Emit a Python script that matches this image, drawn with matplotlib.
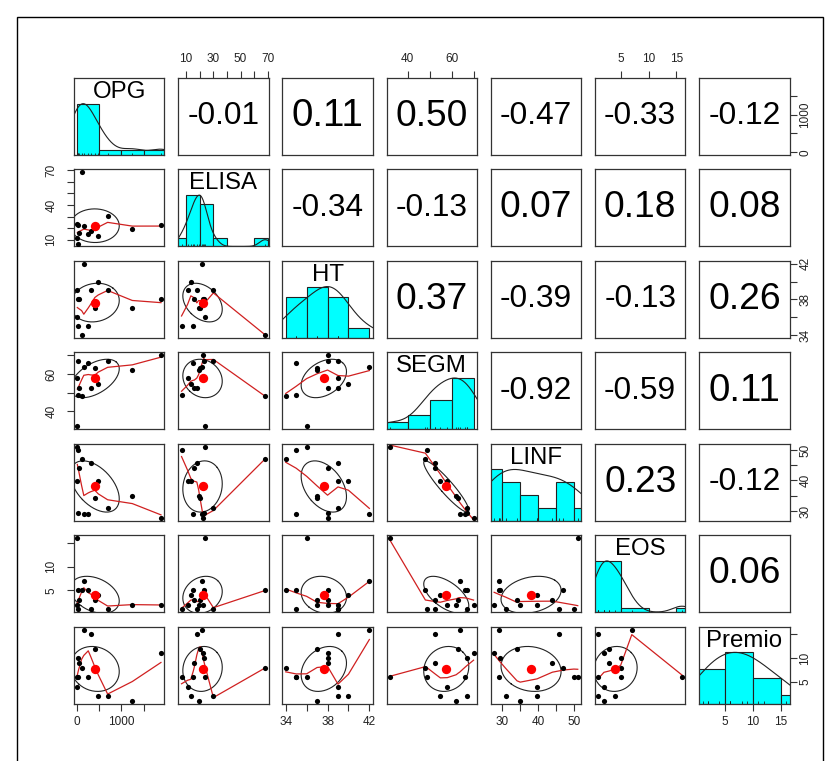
import numpy as np
import matplotlib
matplotlib.use('Agg')
import matplotlib.pyplot as plt

plt.rcParams['font.family'] = ['Liberation Sans', 'DejaVu Sans']

names = ['OPG', 'ELISA', 'HT', 'SEGM', 'LINF', 'EOS', 'Premio']

# values, one entry per case
OPG = [1890, 1244, 101, 5, 151, 12, 251, 400, 20, 35, 688, 8, 311, 476]
ELISA = [22.6, 19.3, 68.0, 23.9, 21.8, 6.8, 15.4, 20.5, 23.0, 16.1, 30.1, 11.2, 18.0, 13.6]
HT = [38, 37, 34, 36, 42, 35, 35, 37, 38, 38, 39, 39, 39, 40]
SEGM = [70.0, 62.1, 48.1, 32.0, 63.7, 49.0, 66.1, 63.0, 67.0, 52.7, 67.0, 58.1, 52.7, 54.9]
LINF = [27.7, 35.0, 47.1, 51.1, 29.0, 50.0, 29.0, 34.1, 29.3, 44.0, 30.9, 39.7, 45.8, 39.7]
EOS = [2, 2, 5, 16, 7, 1, 5, 3, 5, 3, 1, 2, 1, 4]
Premio = [11, 1, 8, 6, 16, 6, 6, 12, 10, 9, 2, 4, 15, 2]

# correlations as printed in the upper triangle, row by row
cor_rows = [['-0.01', '0.11', '0.50', '-0.47', '-0.33', '-0.12'],
            ['-0.34', '-0.13', '0.07', '0.18', '0.08'],
            ['0.37', '-0.39', '-0.13', '0.26'],
            ['-0.92', '-0.59', '0.11'],
            ['0.23', '-0.12'],
            ['0.06']]

# tick labels that R kept (the rest of the ticks are unlabelled)
h_labels = {'OPG': [0, 1000], 'ELISA': [10, 30, 50, 70], 'HT': [34, 38, 42],
            'SEGM': [40, 60], 'LINF': [30, 40, 50], 'EOS': [5, 10, 15],
            'Premio': [5, 10, 15]}
v_labels = {'OPG': [0, 1000], 'ELISA': [10, 40, 70], 'HT': [34, 38, 42],
            'SEGM': [40, 60], 'LINF': [30, 40, 50], 'EOS': [5, 10],
            'Premio': [5, 10]}

data = [np.array(v, float) for v in (OPG, ELISA, HT, SEGM, LINF, EOS, Premio)]
nv = len(names)


def pretty_unit(lo, hi, n=5, h=1.5):
    cell = (hi - lo) / n
    U = 10 ** np.floor(np.log10(cell))
    unit = U
    if 2 * U - cell < h * (cell - unit):
        unit = 2 * U
        if 5 * U - cell < (0.5 + 1.5 * h) * (cell - unit):
            unit = 5 * U
            if 10 * U - cell < h * (cell - unit):
                unit = 10 * U
    return unit


def usr_of(x):
    r = x.max() - x.min()
    return x.min() - 0.04 * r, x.max() + 0.04 * r


def axis_ticks(lo, hi):
    u = pretty_unit(lo, hi)
    return np.arange(np.ceil(lo / u) * u, hi + 1e-9, u) + 0.0


def lowest(x, y, xs, nleft, nright, rw):
    n = len(x)
    h = max(xs - x[nleft], x[nright] - xs)
    h9, h1 = 0.999 * h, 0.001 * h
    w = np.zeros(n)
    a = 0.0
    j = nleft
    while j < n:
        r = abs(x[j] - xs)
        if r <= h9:
            w[j] = 1.0 if r <= h1 else (1 - (r / h) ** 3) ** 3
            w[j] *= rw[j]
            a += w[j]
        elif x[j] > xs:
            break
        j += 1
    sl = slice(nleft, j)
    if a <= 0:
        return 0.0, False
    w[sl] /= a
    if h > 0:
        m = np.sum(w[sl] * x[sl])
        c = np.sum(w[sl] * (x[sl] - m) ** 2)
        if np.sqrt(c) > 0.001 * (x[-1] - x[0]):
            w[sl] *= (xs - m) / c * (x[sl] - m) + 1.0
    return np.sum(w[sl] * y[sl]), True


def lowess(x, y, f=2 / 3, iters=3):
    o = np.argsort(x, kind='mergesort')
    x, y = x[o], y[o]
    n = len(x)
    ns = max(2, min(n, int(f * n + 1e-7)))
    delta = 0.01 * (x[-1] - x[0])
    rw = np.ones(n)
    ys = np.zeros(n)
    for it in range(iters + 1):
        nleft, nright, last, i = 0, ns - 1, -1, 0
        while True:
            if nright < n - 1:
                if x[i] - x[nleft] > x[nright + 1] - x[i]:
                    nleft += 1
                    nright += 1
                    continue
            val, ok = lowest(x, y, x[i], nleft, nright, rw)
            ys[i] = val if ok else y[i]
            if last < i - 1:
                for j in range(last + 1, i):
                    al = (x[j] - x[last]) / (x[i] - x[last])
                    ys[j] = al * ys[i] + (1 - al) * ys[last]
            last = i
            cut = x[last] + delta
            i = last + 1
            while i < n:
                if x[i] > cut:
                    break
                if x[i] == x[last]:
                    ys[i] = ys[last]
                    last = i
                i += 1
            i = max(last + 1, i - 1)
            if last >= n - 1:
                break
        if it == iters:
            break
        res = np.abs(y - ys)
        cmad = 6 * np.median(res)
        if cmad < 1e-7 * np.mean(np.abs(y)):
            break
        r = res / cmad
        rw = np.where(r <= 0.001, 1.0, np.where(r <= 0.999, (1 - r ** 2) ** 2, 0.0))
    return x, ys


def density(x):
    q1, q3 = np.percentile(x, [25, 75])
    bw = 1.06 * min(x.std(ddof=1), (q3 - q1) / 1.34) * len(x) ** -0.2 * 1.2
    g = np.linspace(x.min() - 3 * bw, x.max() + 3 * bw, 512)
    d = np.exp(-0.5 * ((g[:, None] - x[None, :]) / bw) ** 2).sum(1)
    return g, d / d.max()


W, H = 840, 761
fig = plt.figure(figsize=(W / 100, H / 100), dpi=100)
renderer = fig.canvas.get_renderer()

# outer frame of the device
fig.add_artist(plt.Rectangle((17 / W, -0.01), (823 - 17) / W, 1 - 17 / H + 0.01,
                             transform=fig.transFigure, fill=False, lw=1, ec='black'))

pw, ph = 90.3, 77.0
box_col = '#333333'
tick_kw = dict(direction='out', length=5, width=0.8, colors=box_col,
               labelsize=8.5, labelcolor='#222222')


def label_list(tk, keep):
    return ['%g' % t if t in keep else '' for t in tk]


for i in range(nv):
    for j in range(nv):
        left = 74 + 104.2 * j
        top = 78 + 91.45 * i
        ax = fig.add_axes([left / W, 1 - (top + ph) / H, pw / W, ph / H])
        for s in ax.spines.values():
            s.set_color(box_col)
            s.set_linewidth(0.9)
        ax.set_xticks([])
        ax.set_yticks([])
        xu = usr_of(data[j])
        yu = usr_of(data[i])
        ax.set_xlim(*xu)
        if i == j:
            x = data[i]
            ax.set_ylim(0, 1.5)
            u = pretty_unit(x.min(), x.max())
            br = np.arange(np.floor(x.min() / u) * u, np.ceil(x.max() / u) * u + u / 2, u)
            idx = np.clip(np.searchsorted(br, x, side='left') - 1, 0, len(br) - 2)
            cnt = np.bincount(idx, minlength=len(br) - 1).astype(float)
            ax.bar(br[:-1], cnt / cnt.max(), width=u, align='edge', color='cyan',
                   edgecolor='#222222', linewidth=0.8, zorder=1)
            g, d = density(x)
            ax.plot(g, d, color='#222222', lw=0.8, zorder=2)
            ax.vlines(x, 0, 0.045, color='#222222', lw=0.6, zorder=3)
            ax.text(0.5, 0.82, names[i], transform=ax.transAxes, ha='center',
                    va='center', fontsize=17.3, zorder=4)
        elif i < j:
            ax.set_ylim(*yu)
            txt = cor_rows[i][j - i - 1]
            t = ax.text(0.5, 0.5, txt, transform=ax.transAxes, ha='center',
                        va='center', fontsize=20)
            bw_ = t.get_window_extent(renderer).width
            t.set_fontsize(20 * 0.8 * pw / bw_)
        else:
            x, y = data[j], data[i]
            ax.set_ylim(*yu)
            ax.scatter(x, y, s=14, color='black', linewidths=0, zorder=3)
            xm, ym = x.mean(), y.mean()
            xs, ys = x.std(ddof=1), y.std(ddof=1)
            r = np.corrcoef(x, y)[0, 1]
            th = np.sign(r) / np.sqrt(2) if abs(r) > 0 else 1 / np.sqrt(2)
            shape = np.diag([np.sqrt(1 + r), np.sqrt(1 - r)]) @ np.array([[th, th], [-th, th]])
            ang = np.arange(52) * 2 * np.pi / 51
            el = np.column_stack([np.cos(ang), np.sin(ang)]) @ shape
            ax.scatter([xm], [ym], s=45, color='red', linewidths=0, zorder=4)
            ax.plot(el[:, 0] * xs + xm, el[:, 1] * ys + ym, color='#222222', lw=0.8, zorder=2)
            lx, ly = lowess(x, y)
            ax.plot(lx, ly, color='#d02020', lw=0.9, zorder=2)

        var = names[j]
        if i == 0 and j % 2 == 1:
            tk = axis_ticks(*xu)
            ax.xaxis.set_ticks_position('top')
            ax.set_xticks(tk)
            ax.set_xticklabels(label_list(tk, h_labels[var]))
            ax.tick_params(axis='x', pad=4, **tick_kw)
            ax.set_xlim(*xu)
        if i == nv - 1 and j % 2 == 0:
            tk = axis_ticks(*xu)
            ax.set_xticks(tk)
            ax.set_xticklabels(label_list(tk, h_labels[var]))
            ax.tick_params(axis='x', pad=3.5, **tick_kw)
            ax.set_xlim(*xu)
        var = names[i]
        if j == 0 and i % 2 == 1:
            tk = axis_ticks(*yu)
            ax.set_yticks(tk)
            ax.set_yticklabels(label_list(tk, v_labels[var]), rotation=90, va='center')
            ax.tick_params(axis='y', pad=7, **tick_kw)
            ax.set_ylim(*yu)
        if j == nv - 1 and i % 2 == 0:
            # the diagonal panel keeps its 0..1.5 scale, so put the axis on a twin
            tax = ax.twinx() if i == j else ax
            if i == j:
                for s in tax.spines.values():
                    s.set_visible(False)
            tk = axis_ticks(*yu)
            tax.yaxis.set_ticks_position('right')
            tax.set_yticks(tk)
            tax.set_yticklabels(label_list(tk, v_labels[var]), rotation=90, va='center')
            tax.tick_params(axis='y', pad=2, **tick_kw)
            tax.set_ylim(*yu)

fig.savefig('out.png', dpi=100)
